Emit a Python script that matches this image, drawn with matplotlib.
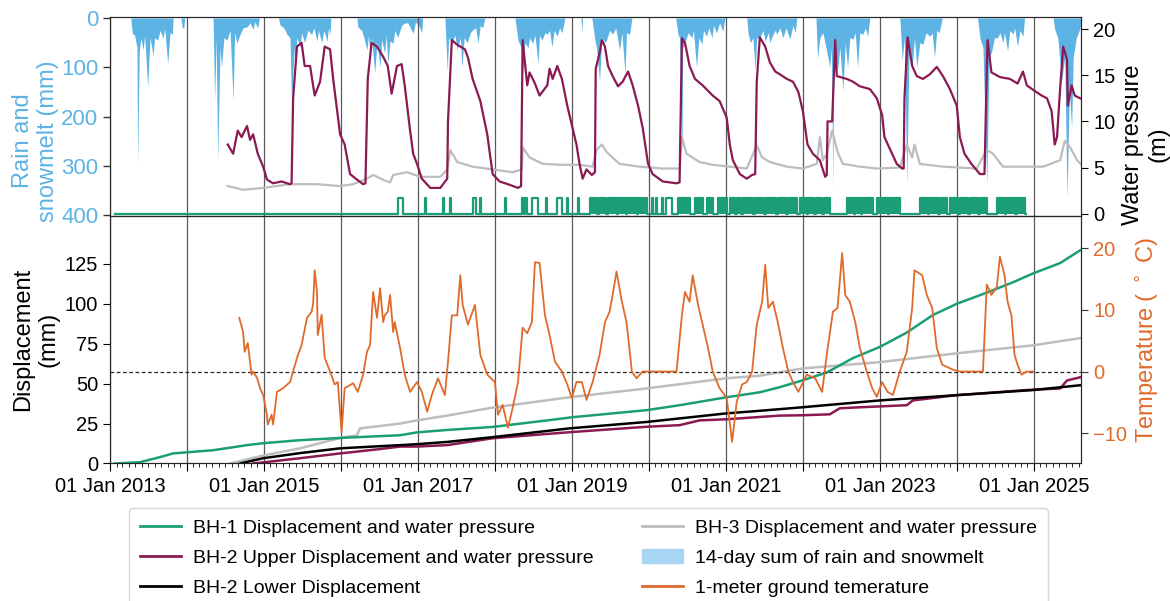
import numpy as np
import matplotlib
matplotlib.use('Agg')
import matplotlib.pyplot as plt
import matplotlib.dates as mdates
from matplotlib.ticker import FuncFormatter
from matplotlib.patches import Patch
from matplotlib.lines import Line2D
from datetime import datetime, timedelta

plt.rcParams['font.family'] = ['Liberation Sans', 'DejaVu Sans']

# ---------------- data (decimal years) ----------------
# 14-day sum of rain and snowmelt (mm)
rain_t = [2013.27, 2013.29, 2013.32, 2013.35, 2013.36, 2013.38, 2013.40, 2013.43, 2013.45, 2013.49, 2013.52,
          2013.56, 2013.58, 2013.62, 2013.65, 2013.69, 2013.71, 2013.75, 2013.78, 2013.81, 2013.82,
          2013.92, 2013.94, 2013.96, 2013.97,
          2014.34, 2014.36, 2014.38, 2014.40, 2014.43, 2014.45, 2014.48, 2014.52, 2014.56, 2014.60, 2014.62,
          2014.65, 2014.69, 2014.73, 2014.78, 2014.82, 2014.86, 2014.88, 2014.92, 2014.94,
          2015.19, 2015.21, 2015.26, 2015.30, 2015.34, 2015.36, 2015.39, 2015.40, 2015.43, 2015.47, 2015.49,
          2015.53, 2015.57, 2015.62, 2015.65, 2015.69, 2015.71, 2015.75, 2015.78, 2015.82, 2015.84, 2015.86, 2015.87,
          2016.21, 2016.22, 2016.27, 2016.30, 2016.34, 2016.36, 2016.38, 2016.40, 2016.44, 2016.47, 2016.51,
          2016.53, 2016.57, 2016.59, 2016.61, 2016.64, 2016.68, 2016.70, 2016.74, 2016.79, 2016.83, 2016.87,
          2016.94, 2016.97, 2017.01, 2017.05, 2017.06,
          2017.35, 2017.38, 2017.40, 2017.44, 2017.48, 2017.51, 2017.55, 2017.57, 2017.60, 2017.64, 2017.68,
          2017.71, 2017.75, 2017.78, 2017.81, 2017.84, 2017.87,
          2018.26, 2018.30, 2018.34, 2018.36, 2018.39, 2018.43, 2018.45, 2018.49, 2018.52, 2018.56, 2018.58,
          2018.61, 2018.65, 2018.68, 2018.71, 2018.74, 2018.77, 2018.81, 2018.84, 2018.87, 2018.91,
          2019.12, 2019.13, 2019.14,
          2019.26, 2019.30, 2019.32, 2019.36, 2019.39, 2019.43, 2019.45, 2019.49, 2019.53, 2019.57, 2019.62,
          2019.65, 2019.69, 2019.71, 2019.75, 2019.78,
          2020.35, 2020.38, 2020.40, 2020.43, 2020.44, 2020.47, 2020.51, 2020.56, 2020.58, 2020.62, 2020.65,
          2020.69, 2020.71, 2020.75, 2020.78, 2020.82, 2020.84, 2020.88, 2020.92, 2020.96, 2020.99,
          2021.27, 2021.29, 2021.32, 2021.35, 2021.38, 2021.40, 2021.44, 2021.48, 2021.51, 2021.55, 2021.57,
          2021.60, 2021.64, 2021.66, 2021.70, 2021.74, 2021.78, 2021.83, 2021.87, 2021.90, 2021.92,
          2022.17, 2022.19, 2022.22, 2022.26, 2022.30, 2022.35, 2022.37, 2022.39, 2022.40, 2022.43, 2022.45,
          2022.48, 2022.52, 2022.55, 2022.58, 2022.61, 2022.65, 2022.68, 2022.71, 2022.74, 2022.78, 2022.81,
          2022.84, 2022.87,
          2023.26, 2023.29, 2023.32, 2023.35, 2023.38, 2023.42, 2023.45, 2023.48, 2023.52, 2023.56, 2023.60,
          2023.65, 2023.68, 2023.71, 2023.74, 2023.77, 2023.81,
          2024.27, 2024.30, 2024.34, 2024.39, 2024.42, 2024.45, 2024.49, 2024.53, 2024.56, 2024.60, 2024.62,
          2024.66, 2024.69, 2024.73, 2024.75, 2024.79, 2024.82, 2024.86, 2024.88,
          2025.25, 2025.27, 2025.31, 2025.36, 2025.40, 2025.43, 2025.46, 2025.49, 2025.51, 2025.53, 2025.55,
          2025.57, 2025.60, 2025.61]
rain_mm = [0, 31, 35, 60, 296, 70, 40, 65, 35, 140, 40,
           76, 40, 45, 25, 41, 20, 92, 30, 33, 0,
           0, 20, 20, 0,
           0, 167, 40, 290, 60, 100, 40, 45, 25, 167, 30,
           51, 33, 20, 18, 10, 23, 8, 20, 0,
           0, 14, 20, 33, 40, 182, 60, 100, 40, 59, 30,
           50, 25, 33, 20, 47, 25, 50, 25, 47, 20, 33, 0,
           0, 18, 25, 40, 65, 35, 80, 40, 112, 50, 100,
           45, 71, 35, 92, 47, 51, 25, 39, 15, 10, 10,
           31, 8, 15, 30, 0,
           0, 106, 40, 51, 35, 65, 40, 100, 40, 50, 30,
           24, 20, 51, 15, 20, 0,
           0, 45, 60, 112, 50, 60, 40, 51, 35, 92, 35,
           45, 30, 33, 25, 59, 25, 37, 20, 30, 0,
           0, 30, 0,
           0, 45, 60, 127, 40, 50, 45, 25, 33, 20, 65,
           30, 112, 30, 33, 0,
           0, 33, 40, 276, 60, 50, 30, 40, 25, 100, 40,
           53, 25, 37, 20, 40, 15, 30, 10, 27, 0,
           0, 33, 50, 40, 106, 40, 40, 25, 47, 30, 50,
           37, 25, 33, 20, 40, 20, 43, 15, 30, 0,
           0, 82, 40, 30, 60, 100, 60, 345, 60, 80, 106,
           60, 147, 50, 100, 40, 43, 30, 100, 30, 33, 20,
           37, 0,
           0, 86, 40, 337, 60, 100, 40, 100, 50, 53, 30,
           37, 30, 80, 25, 30, 0,
           0, 40, 60, 337, 80, 70, 40, 40, 30, 50, 30,
           67, 25, 33, 20, 57, 25, 37, 0,
           0, 23, 40, 127, 80, 365, 150, 222, 80, 60, 40,
           33, 20, 0]

# BH-2 upper water pressure (m)
bh2_wp_t = [2014.53, 2014.60, 2014.66, 2014.71, 2014.78, 2014.82, 2014.86, 2014.92, 2014.99, 2015.04, 2015.12,
            2015.23, 2015.34, 2015.36, 2015.38, 2015.43, 2015.49, 2015.53, 2015.60, 2015.66, 2015.73, 2015.79,
            2015.86, 2015.90, 2015.99, 2016.05, 2016.12, 2016.21, 2016.29, 2016.32, 2016.35, 2016.40, 2016.47,
            2016.55, 2016.61, 2016.66, 2016.73, 2016.79, 2016.83, 2016.90, 2016.94, 2016.99, 2017.05, 2017.16,
            2017.29, 2017.38, 2017.39, 2017.44, 2017.51, 2017.61, 2017.65, 2017.71, 2017.81, 2017.90, 2017.97,
            2018.06, 2018.17, 2018.30, 2018.34, 2018.36, 2018.42, 2018.45, 2018.52, 2018.58, 2018.68, 2018.71,
            2018.75, 2018.81, 2018.87, 2018.94, 2019.00, 2019.06, 2019.10, 2019.14, 2019.19, 2019.26, 2019.30,
            2019.31, 2019.36, 2019.39, 2019.43, 2019.47, 2019.53, 2019.60, 2019.66, 2019.73, 2019.79, 2019.86,
            2019.92, 2019.99, 2020.05, 2020.18, 2020.36, 2020.40, 2020.43, 2020.47, 2020.53, 2020.60, 2020.70,
            2020.83, 2020.92, 2021.01, 2021.05, 2021.09, 2021.18, 2021.27, 2021.34, 2021.38, 2021.40, 2021.44,
            2021.51, 2021.57, 2021.64, 2021.70, 2021.79, 2021.87, 2021.94, 2022.00, 2022.06, 2022.13, 2022.22,
            2022.29, 2022.31, 2022.32, 2022.38, 2022.42, 2022.44, 2022.57, 2022.65, 2022.74, 2022.87, 2022.96,
            2023.03, 2023.06, 2023.16, 2023.22, 2023.29, 2023.31, 2023.32, 2023.36, 2023.42, 2023.48, 2023.56,
            2023.65, 2023.74, 2023.82, 2023.91, 2024.00, 2024.04, 2024.10, 2024.19, 2024.30, 2024.36, 2024.39,
            2024.40, 2024.45, 2024.56, 2024.69, 2024.79, 2024.86, 2024.91, 2025.01, 2025.10, 2025.17, 2025.23,
            2025.27, 2025.30, 2025.34, 2025.38, 2025.43, 2025.44, 2025.49, 2025.53, 2025.60]
bh2_wp = [7.5, 6.5, 9.0, 8.3, 9.5, 8.0, 8.6, 6.5, 5.1, 3.7, 3.3,
          3.5, 3.2, 3.3, 12.5, 18.1, 18.5, 16.0, 16.0, 12.8, 14.3, 18.1,
          17.8, 14.6, 8.6, 7.5, 4.3, 3.7, 3.2, 3.3, 14.6, 18.5, 18.1,
          17.0, 16.0, 13.0, 16.0, 16.2, 13.9, 9.0, 6.5, 5.4, 3.8, 2.8,
          2.8, 3.8, 10.0, 18.8, 18.3, 17.8, 16.9, 14.6, 12.2, 8.6, 4.3,
          3.5, 3.2, 2.8, 3.0, 18.8, 13.9, 15.3, 14.1, 12.8, 13.9, 15.7,
          14.6, 16.0, 14.6, 11.7, 9.6, 7.5, 5.4, 3.8, 4.8, 4.2, 4.5,
          15.7, 17.4, 18.8, 18.1, 16.0, 14.9, 13.8, 14.3, 15.4, 13.9, 11.7,
          9.3, 5.4, 4.3, 3.5, 3.3, 3.4, 19.0, 18.5, 16.0, 14.6, 13.9,
          12.8, 12.2, 10.4, 7.5, 5.8, 4.3, 3.8, 4.2, 4.3, 14.3, 19.1,
          18.1, 16.4, 15.4, 15.1, 14.6, 14.3, 13.2, 11.1, 7.5, 6.5, 5.8,
          4.0, 4.2, 10.0, 10.0, 18.8, 14.9, 14.6, 14.3, 13.8, 13.5, 12.5,
          10.7, 8.3, 6.5, 5.4, 4.9, 4.9, 12.5, 19.1, 16.0, 14.9, 14.6,
          15.1, 15.9, 14.9, 13.5, 11.7, 8.3, 6.5, 5.4, 4.3, 4.3, 15.7,
          18.8, 15.3, 14.8, 14.6, 14.1, 15.4, 13.9, 13.3, 12.8, 12.5, 11.1,
          7.5, 8.3, 13.5, 18.1, 16.7, 11.7, 13.9, 12.8, 12.5]

# BH-3 water pressure (m)
bh3_wp_t = [2014.53, 2014.73, 2014.99, 2015.34, 2015.69, 2015.99, 2016.16, 2016.34, 2016.42, 2016.57, 2016.64,
            2016.68, 2016.86, 2017.03, 2017.29, 2017.38, 2017.42, 2017.51, 2017.71, 2017.97, 2018.23, 2018.35,
            2018.36, 2018.45, 2018.62, 2018.88, 2019.10, 2019.27, 2019.32, 2019.39, 2019.45, 2019.62, 2019.88,
            2020.18, 2020.40, 2020.43, 2020.49, 2020.66, 2020.83, 2021.05, 2021.27, 2021.40, 2021.47, 2021.57,
            2021.70, 2021.79, 2022.00, 2022.18, 2022.22, 2022.26, 2022.31, 2022.38, 2022.45, 2022.52, 2022.74,
            2022.96, 2023.26, 2023.35, 2023.42, 2023.45, 2023.52, 2023.82, 2024.26, 2024.39, 2024.47, 2024.60,
            2024.91, 2025.12, 2025.34, 2025.40, 2025.47, 2025.56, 2025.62]
bh3_wp = [3.0, 2.6, 2.8, 3.2, 3.2, 3.0, 3.2, 3.8, 4.2, 3.6, 3.4,
          4.2, 4.5, 4.0, 4.0, 4.8, 6.9, 5.6, 5.1, 4.8, 4.5, 4.8,
          7.2, 6.1, 5.4, 5.3, 5.3, 5.1, 6.9, 7.5, 6.7, 5.4, 5.1,
          4.9, 4.9, 8.3, 6.5, 5.6, 5.3, 5.1, 4.9, 7.4, 6.1, 5.6,
          5.3, 5.1, 4.9, 5.4, 8.3, 5.8, 6.5, 9.0, 6.7, 5.4, 5.1,
          4.9, 5.0, 7.5, 6.1, 7.5, 5.4, 5.1, 4.9, 6.9, 6.5, 5.1,
          5.1, 5.1, 5.8, 7.9, 7.2, 5.8, 5.3]

# BH-1 water pressure: record span, pulse level and periods with pressure (decimal years)
bh1_wp_span = [2013.06, 2024.90]
bh1_wp_level = 1.7
bh1_wp_pulses = [(2016.74, 2016.81), (2017.09, 2017.10), (2017.32, 2017.335), (2017.42, 2017.43),
                 (2017.71, 2017.75), (2017.81, 2017.82), (2018.13, 2018.14), (2018.35, 2018.38),
                 (2018.39, 2018.42), (2018.48, 2018.56), (2018.66, 2018.68), (2018.81, 2018.87),
                 (2018.94, 2018.95), (2019.08, 2019.09), (2020.04, 2020.05), (2020.10, 2020.11),
                 (2020.17, 2020.18), (2020.23, 2020.30)]
bh1_wp_dense = [(2019.23, 2019.33), (2019.35, 2019.45), (2019.47, 2019.58), (2019.60, 2019.70),
                (2019.72, 2019.84), (2019.86, 2019.97),
                (2020.38, 2020.53), (2020.60, 2020.70), (2020.75, 2020.83),
                (2020.90, 2021.01), (2021.05, 2021.12), (2021.14, 2021.20), (2021.22, 2021.35),
                (2021.38, 2021.50), (2021.52, 2021.65), (2021.67, 2021.78), (2021.80, 2021.92),
                (2021.96, 2022.05), (2022.07, 2022.15), (2022.17, 2022.25), (2022.27, 2022.35),
                (2022.57, 2022.66), (2022.68, 2022.75), (2022.77, 2022.91),
                (2022.96, 2023.10), (2023.12, 2023.26),
                (2023.52, 2023.62), (2023.64, 2023.76), (2023.78, 2023.87),
                (2023.91, 2024.02), (2024.04, 2024.15), (2024.17, 2024.28), (2024.30, 2024.39),
                (2024.52, 2024.62), (2024.64, 2024.76), (2024.78, 2024.88)]

# Displacements (mm)
bh1_d_t = [2013.06, 2013.39, 2013.65, 2013.82, 2014.00, 2014.34, 2014.78, 2014.99, 2015.47, 2015.99, 2016.77,
           2016.99, 2017.38, 2017.97, 2018.68, 2019.01, 2019.97, 2020.40, 2021.01, 2021.44, 2021.70, 2021.99,
           2022.31, 2022.65, 2023.00, 2023.35, 2023.69, 2024.00, 2024.39, 2024.73, 2024.99, 2025.34, 2025.60]
bh1_d = [0, 0.8, 4.0, 6.3, 7.0, 8.3, 11.5, 12.7, 14.6, 16.0, 17.7,
         19.5, 21.0, 22.9, 27.0, 29.0, 33.4, 36.5, 41.5, 44.6, 47.8, 52.0,
         57.0, 66.0, 73.0, 82.0, 93.0, 100.0, 107.0, 113.5, 119.0, 125.5, 133.5]

bh3_d_t = [2014.56, 2014.99, 2015.47, 2015.99, 2016.21, 2016.25, 2016.77, 2016.99, 2017.38, 2017.97, 2018.97,
           2019.97, 2021.01, 2021.44, 2021.99, 2023.00, 2024.00, 2024.99, 2025.60]
bh3_d = [0, 5.0, 9.5, 16.0, 17.7, 22.0, 25.0, 27.0, 30.0, 35.0, 41.5,
         47.0, 53.4, 55.0, 59.5, 63.5, 69.0, 74.0, 78.5]

bh2l_d_t = [2014.69, 2014.99, 2015.47, 2015.99, 2016.77, 2016.99, 2017.38, 2017.97, 2018.97, 2019.97, 2021.01,
            2021.44, 2021.99, 2023.00, 2024.00, 2024.99, 2025.60]
bh2l_d = [0, 3.3, 6.5, 9.5, 11.5, 12.1, 13.5, 16.5, 22.0, 26.0, 31.4,
          33.0, 35.2, 39.5, 42.8, 46.0, 49.0]

bh2u_d_t = [2014.86, 2015.47, 2015.99, 2016.50, 2016.77, 2016.99, 2017.38, 2017.97, 2018.97, 2019.97, 2020.40,
            2020.66, 2021.01, 2021.70, 2021.99, 2022.35, 2022.48, 2022.74, 2023.35, 2023.43, 2024.00, 2024.91,
            2025.34, 2025.43, 2025.60]
bh2u_d = [0, 3.3, 6.3, 9.0, 10.6, 10.6, 11.5, 15.8, 19.6, 23.0, 24.0,
          27.0, 27.7, 30.0, 30.2, 30.8, 34.6, 35.2, 36.5, 39.5, 42.8, 46.0,
          47.0, 52.0, 54.0]

# 1-meter ground temperature (deg C)
temp_t = [2014.68, 2014.73, 2014.75, 2014.79, 2014.84, 2014.86, 2014.91, 2014.95, 2014.99, 2015.04, 2015.05,
          2015.10, 2015.12, 2015.17, 2015.25, 2015.34, 2015.43, 2015.49, 2015.56, 2015.62, 2015.64, 2015.66,
          2015.69, 2015.70, 2015.75, 2015.79, 2015.86, 2015.92, 2015.96, 2016.01, 2016.05, 2016.16, 2016.22,
          2016.29, 2016.34, 2016.38, 2016.42, 2016.47, 2016.51, 2016.55, 2016.57, 2016.61, 2016.64, 2016.68,
          2016.70, 2016.77, 2016.83, 2016.90, 2016.99, 2017.05, 2017.12, 2017.18, 2017.26, 2017.35, 2017.39,
          2017.44, 2017.51, 2017.55, 2017.58, 2017.65, 2017.74, 2017.81, 2017.90, 2018.00, 2018.04, 2018.10,
          2018.17, 2018.23, 2018.30, 2018.36, 2018.42, 2018.48, 2018.52, 2018.58, 2018.65, 2018.71, 2018.78,
          2018.87, 2018.94, 2019.00, 2019.06, 2019.13, 2019.19, 2019.27, 2019.36, 2019.43, 2019.49, 2019.53,
          2019.58, 2019.65, 2019.71, 2019.78, 2019.84, 2019.92, 2020.10, 2020.36, 2020.43, 2020.47, 2020.53,
          2020.57, 2020.64, 2020.70, 2020.77, 2020.83, 2020.92, 2021.01, 2021.08, 2021.14, 2021.21, 2021.27,
          2021.34, 2021.40, 2021.47, 2021.51, 2021.55, 2021.61, 2021.68, 2021.74, 2021.81, 2021.87, 2021.94,
          2022.05, 2022.16, 2022.25, 2022.31, 2022.39, 2022.45, 2022.51, 2022.55, 2022.61, 2022.68, 2022.74,
          2022.83, 2022.90, 2022.96, 2023.03, 2023.10, 2023.17, 2023.26, 2023.35, 2023.42, 2023.45, 2023.55,
          2023.61, 2023.68, 2023.74, 2023.81, 2023.95, 2024.04, 2024.34, 2024.39, 2024.45, 2024.52, 2024.56,
          2024.62, 2024.66, 2024.71, 2024.75, 2024.79, 2024.84, 2024.91, 2024.99]
temp_c = [8.7, 6.4, 3.2, 4.6, -0.5, 0.0, -1.0, -2.7, -3.8, -7.0, -8.6,
          -7.0, -8.6, -3.3, -2.7, -1.7, 2.2, 4.3, 8.7, 9.7, 11.0, 16.4,
          12.9, 5.9, 9.2, 2.2, 0.0, -2.1, -1.7, -9.8, -2.7, -1.9, -3.3,
          -0.5, 3.2, 4.3, 12.9, 8.7, 13.5, 8.0, 9.1, 9.7, 12.4, 6.4,
          8.0, 3.8, -0.5, -3.3, -1.7, -3.3, -6.5, -3.8, -1.1, -3.8, 1.6,
          9.1, 9.1, 15.6, 10.8, 7.6, 10.8, 2.7, -0.5, -1.7, -7.0, -5.4,
          -9.1, -5.9, -1.7, 7.1, 6.2, 8.0, 17.7, 17.6, 9.1, 5.9, 1.6,
          0.0, -2.1, -4.3, -1.7, -1.7, -4.6, -1.7, 2.7, 8.0, 9.7, 12.4,
          16.2, 11.3, 8.0, 0.0, -1.1, 0.0, 0.0, 0.0, 9.1, 12.9, 11.3,
          15.6, 10.8, 7.6, 3.8, 0.0, -2.7, -4.3, -11.4, -4.9, -2.1, -1.7,
          0.0, 7.6, 11.3, 17.3, 10.3, 11.3, 7.6, 3.8, 0.0, -1.7, -3.3,
          -0.5, -1.1, -3.3, 2.7, 9.7, 10.3, 19.2, 12.4, 11.3, 8.0, 3.8,
          0.0, -2.7, -4.1, -1.7, -3.3, -3.8, 0.0, 3.2, 10.3, 16.4, 15.6,
          12.4, 10.3, 3.8, 1.1, 0.3, 0.0, 0.0, 14.1, 12.4, 13.7, 18.6,
          15.6, 11.3, 9.1, 2.7, 1.1, -0.5, 0.0, 0.0]

x_range = [2013.0, 2025.617]

# ---------------- helpers ----------------
def to_date(t):
    y = int(np.floor(t))
    return datetime(y, 1, 1) + timedelta(days=(t - y) * 365.25)

def dates(ts):
    return [to_date(t) for t in ts]

# ---------------- colours ----------------
c_green = '#1b9e77'
c_maroon = '#8a1a51'
c_gray = '#bdbdbd'
c_black = '#000000'
c_orange = '#e06a2a'
c_rain = '#5db3e4'
c_rain_leg = '#a8d5f2'
c_blue_txt = '#5db3e4'

fig = plt.figure(figsize=(11.7, 6.01), dpi=100)
L, W = 0.094, 0.8303
ax1 = fig.add_axes([L, 0.6406, W, 0.3311])
ax3 = fig.add_axes([L, 0.2288, W, 0.4118])
ax1.sharex(ax3)

# ---- top panel: rain ----
ax1.fill_between(dates(rain_t), 0, rain_mm, color=c_rain, lw=0, zorder=1)
ax1.set_ylim(402, -2)
ax1.set_yticks([0, 100, 200, 300, 400])
ax1.tick_params(axis='y', colors=c_blue_txt, labelsize=16, length=5, width=1)
ax1.tick_params(axis='y', which='both', color='0.2')
ax1.set_ylabel('Rain and\nsnowmelt (mm)', color=c_blue_txt, fontsize=17)
ax1.yaxis.set_label_coords(-0.0525, 0.378)
ax1.tick_params(axis='x', which='both', bottom=False, labelbottom=False)
ax1.grid(axis='x', which='major', color='0.35', lw=0.9)

# ---- top panel: water pressure ----
ax2 = ax1.twinx()
ax2.plot(dates(bh2_wp_t), bh2_wp, color=c_maroon, lw=1.6, zorder=3)
ax2.plot(dates(bh3_wp_t), bh3_wp, color=c_gray, lw=1.6, zorder=2)
pts_t, pts_v = [bh1_wp_span[0]], [0]
for s, e in sorted(bh1_wp_pulses + bh1_wp_dense):
    pts_t += [s, s, e, e]
    pts_v += [0, bh1_wp_level, bh1_wp_level, 0]
pts_t.append(bh1_wp_span[1]); pts_v.append(0)
ax2.plot(dates(pts_t), pts_v, color=c_green, lw=1.6, zorder=4, clip_on=False)
for s, e in bh1_wp_dense:
    ax2.fill_between(dates([s, e]), 0, bh1_wp_level, color=c_green, lw=0, zorder=4)
ax2.set_ylim(-0.24, 21.3)
ax2.set_yticks([0, 5, 10, 15, 20])
ax2.tick_params(axis='y', labelsize=14.5, length=5)
ax2.set_ylabel('Water pressure\n(m)', fontsize=17)
ax2.yaxis.set_label_coords(1.042, 0.36)

for a in (ax1, ax2):
    for sp in a.spines.values():
        sp.set_color('0.15')

# ---- bottom panel: displacement ----
ax3.plot(dates(bh3_d_t), bh3_d, color=c_gray, lw=1.8, zorder=2)
ax3.plot(dates(bh1_d_t), bh1_d, color=c_green, lw=1.8, zorder=3)
ax3.plot(dates(bh2u_d_t), bh2u_d, color=c_maroon, lw=1.8, zorder=3)
ax3.plot(dates(bh2l_d_t), bh2l_d, color=c_black, lw=1.8, zorder=4)
ax3.set_ylim(0, 155)
ax3.set_yticks([0, 25, 50, 75, 100, 125])
ax3.tick_params(axis='y', labelsize=14.5, length=5)
ax3.set_ylabel('Displacement\n(mm)', fontsize=17)
ax3.yaxis.set_label_coords(-0.0515, 0.5)
ax3.grid(axis='x', which='major', color='0.35', lw=0.9)

ax4 = ax3.twinx()
ax4.plot(dates(temp_t), temp_c, color=c_orange, lw=1.3, zorder=3)
ax4.axhline(0, color='0.15', ls='--', lw=0.9, dashes=(3, 2))
ax4.set_ylim(-14.9, 25.2)
ax4.set_yticks([-10, 0, 10, 20])
ax4.tick_params(axis='y', labelsize=14.5, colors=c_orange, length=5)
ax4.tick_params(axis='y', color='0.2')
ax4.set_ylabel('Temperature ( $^\\circ$ C)', color=c_orange, fontsize=17)
ax4.yaxis.set_label_coords(1.0536, 0.5)

# ---- x axis ----
ax3.set_xlim(to_date(x_range[0]), to_date(x_range[1]))
ax3.xaxis.set_major_locator(mdates.YearLocator(1))
ax3.xaxis.set_minor_locator(mdates.MonthLocator())
def fmt(x, pos):
    d = mdates.num2date(x)
    return d.strftime('%d %b %Y') if d.year % 2 == 1 else ''
ax3.xaxis.set_major_formatter(FuncFormatter(fmt))
ax3.tick_params(axis='x', which='major', labelsize=14.5, length=6)
ax3.tick_params(axis='x', which='minor', length=3)
ax1.tick_params(axis='x', which='both', bottom=False, labelbottom=False)

for a in (ax3, ax4):
    for sp in a.spines.values():
        sp.set_color('0.15')

# ---- legend ----
handles = [
    Line2D([], [], color=c_green, lw=2),
    Line2D([], [], color=c_maroon, lw=2),
    Line2D([], [], color=c_black, lw=2),
    Line2D([], [], color=c_gray, lw=2),
    Patch(facecolor=c_rain_leg, edgecolor=c_rain_leg),
    Line2D([], [], color=c_orange, lw=2),
]
labels = ['BH-1 Displacement and water pressure',
          'BH-2 Upper Displacement and water pressure',
          'BH-2 Lower Displacement',
          'BH-3 Displacement and water pressure',
          '14-day sum of rain and snowmelt',
          '1-meter ground temerature']
fig.legend(handles, labels, loc='upper center', bbox_to_anchor=(0.503, 0.1547), ncol=2,
           fontsize=14, frameon=True, fancybox=True, edgecolor='0.8',
           handlelength=2.1, handletextpad=0.6, columnspacing=2.5, borderpad=0.6,
           labelspacing=0.62, borderaxespad=0)

fig.savefig('out.png', dpi=100)
